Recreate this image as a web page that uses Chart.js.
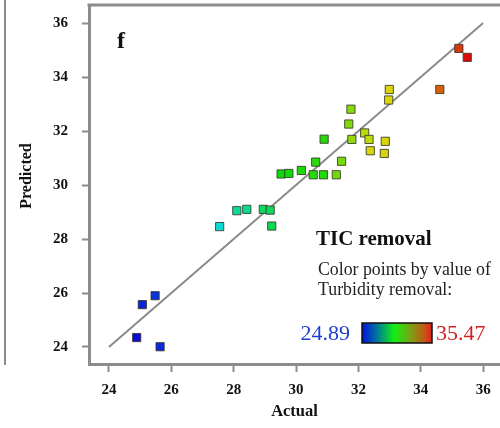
<!DOCTYPE html>
<html>
<head>
<meta charset="utf-8">
<script src="https://cdn.jsdelivr.net/npm/chart.js@4.4.1/dist/chart.umd.min.js"></script>
<style>
  html, body { margin: 0; padding: 0; background: #ffffff; }
  #wrap { width: 500px; height: 428px; }
</style>
</head>
<body>
<div id="wrap"><canvas id="c" width="500" height="428"></canvas></div>
<script>
// Actual vs. predicted TIC removal (%), coloured by turbidity removal (%)
const actual    = [24.89, 25.07, 25.48, 25.64, 27.55, 28.10, 28.42, 28.95, 29.17, 29.22,
                   29.52, 29.77, 30.17, 30.55, 30.63, 30.88, 30.90, 31.29, 31.46, 31.69,
                   31.76, 31.79, 32.20, 32.34, 32.38, 32.83, 32.86, 32.97, 32.99, 34.61,
                   35.22, 35.49];
const predicted = [24.35, 25.57, 25.90, 24.01, 28.46, 29.05, 29.10, 29.10, 29.07, 28.48,
                   30.41, 30.43, 30.54, 30.38, 30.85, 30.38, 31.70, 30.38, 30.88, 32.26,
                   32.81, 31.69, 31.93, 31.69, 31.27, 31.17, 31.62, 33.15, 33.54, 33.54,
                   35.06, 34.73];
const turbidity = [24.89, 25.20, 25.40, 25.30, 27.60, 28.40, 28.45, 29.10, 29.15, 29.30,
                   30.20, 30.25, 30.40, 30.50, 30.60, 30.45, 30.55, 31.50, 31.55, 31.70,
                   31.75, 31.90, 32.40, 32.45, 32.90, 32.95, 32.90, 32.85, 32.90, 34.40,
                   34.90, 35.47];
const turbMin = 24.89, turbMax = 35.47;
const xTicks = [24, 26, 28, 30, 32, 34, 36];
const yTicks = [24, 26, 28, 30, 32, 34, 36];
const idealLine = [24, 36];

const serif = '"Liberation Serif", "Times New Roman", serif';
const axisGray = '#8c8c8c';

function pointColor(t) {
  const f = (t - turbMin) / (turbMax - turbMin);
  const hue = 240 * (1 - f);
  return `hsl(${hue.toFixed(1)}, 90%, 45%)`;
}

const points = actual.map((a, i) => ({ x: a, y: predicted[i] }));
const colors = turbidity.map(pointColor);

const decorations = {
  id: 'decorations',
  afterDraw(chart) {
    const { ctx, chartArea } = chart;
    ctx.save();
    // top frame line
    ctx.strokeStyle = axisGray;
    ctx.lineWidth = 3;
    ctx.beginPath();
    ctx.moveTo(chartArea.left - 1.5, chartArea.top);
    ctx.lineTo(chart.width, chartArea.top);
    ctx.stroke();
    // edge of the neighbouring panel
    ctx.lineWidth = 2;
    ctx.beginPath();
    ctx.moveTo(5, 0);
    ctx.lineTo(5, 365);
    ctx.stroke();

    // y-axis title
    ctx.save();
    ctx.translate(27, 176);
    ctx.rotate(-Math.PI / 2);
    ctx.fillStyle = '#111';
    ctx.font = `bold 16px ${serif}`;
    ctx.textAlign = 'center';
    ctx.textBaseline = 'middle';
    ctx.fillText('Predicted', 0, 0);
    ctx.restore();

    // panel letter
    ctx.fillStyle = '#111';
    ctx.textBaseline = 'alphabetic';
    ctx.textAlign = 'left';
    ctx.font = `bold 24px ${serif}`;
    ctx.fillText('f', 117, 48);

    // colour legend
    ctx.font = `bold 21px ${serif}`;
    ctx.fillText('TIC removal', 316, 245);
    ctx.fillStyle = '#222';
    ctx.font = `17.8px ${serif}`;
    ctx.fillText('Color points by value of', 318, 275);
    ctx.fillText('Turbidity removal:', 318, 295);

    ctx.font = `22px ${serif}`;
    ctx.textAlign = 'right';
    ctx.fillStyle = '#1d3fd0';
    ctx.fillText(turbMin.toFixed(2), 350, 340);
    ctx.textAlign = 'left';
    ctx.fillStyle = '#d42222';
    ctx.fillText(turbMax.toFixed(2), 436, 340);

    const bx = 362, by = 323, bw = 70, bh = 20;
    const g = ctx.createLinearGradient(bx, 0, bx + bw, 0);
    g.addColorStop(0.00, '#0010e0');
    g.addColorStop(0.22, '#007a9a');
    g.addColorStop(0.46, '#12f012');
    g.addColorStop(0.70, '#7ca014');
    g.addColorStop(0.88, '#c05c14');
    g.addColorStop(1.00, '#e41e1e');
    ctx.fillStyle = g;
    ctx.fillRect(bx, by, bw, bh);
    ctx.strokeStyle = '#111';
    ctx.lineWidth = 1.5;
    ctx.strokeRect(bx, by, bw, bh);
    ctx.restore();
  }
};

new Chart(document.getElementById('c'), {
  type: 'scatter',
  data: {
    datasets: [
      {
        type: 'line',
        data: idealLine.map(v => ({ x: v, y: v })),
        borderColor: '#8a8a8a',
        borderWidth: 2,
        pointRadius: 0,
        fill: false,
        order: 2
      },
      {
        data: points,
        pointStyle: 'rect',
        pointRadius: 5.8,
        backgroundColor: colors,
        borderColor: 'rgba(55,55,40,0.85)',
        borderWidth: 1,
        order: 1
      }
    ]
  },
  options: {
    responsive: false,
    animation: false,
    layout: { autoPadding: false, padding: { top: 5, right: 0, bottom: 0, left: 0 } },
    plugins: { legend: { display: false }, tooltip: { enabled: false } },
    scales: {
      x: {
        type: 'linear',
        min: 23.36,
        max: 36.54,
        afterBuildTicks: s => { s.ticks = xTicks.map(v => ({ value: v })); },
        afterFit: s => { s.height = 64; s.paddingLeft = 0; s.paddingRight = 0; },
        grid: { drawOnChartArea: false, drawTicks: true, tickLength: 8, tickWidth: 2, tickColor: axisGray },
        border: { display: true, color: axisGray, width: 3 },
        ticks: { padding: 9, color: '#111', font: { family: serif, size: 15, weight: 'bold' } },
        title: { display: true, text: 'Actual', color: '#111', padding: { top: 0, bottom: 6 },
                 font: { family: serif, size: 16.5, weight: 'bold' } }
      },
      y: {
        type: 'linear',
        min: 23.37,
        max: 36.67,
        afterBuildTicks: s => { s.ticks = yTicks.map(v => ({ value: v })); },
        afterFit: s => { s.width = 89; s.paddingTop = 0; s.paddingBottom = 0; },
        grid: { drawOnChartArea: false, drawTicks: true, tickLength: 7, tickWidth: 2, tickColor: axisGray },
        border: { display: true, color: axisGray, width: 3 },
        ticks: { padding: 14, color: '#111', font: { family: serif, size: 15, weight: 'bold' } },
        title: { display: false }
      }
    }
  },
  plugins: [decorations]
});
</script>
</body>
</html>
